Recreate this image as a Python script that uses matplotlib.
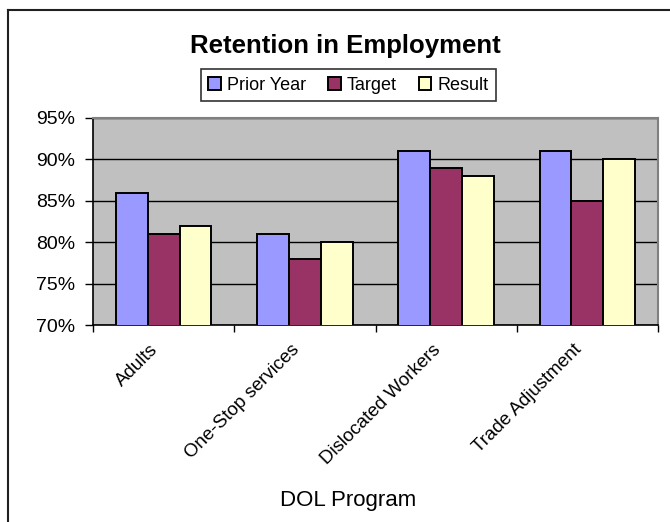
import matplotlib
matplotlib.use("Agg")
import matplotlib.pyplot as plt
import numpy as np
from matplotlib.lines import Line2D
from matplotlib.transforms import ScaledTranslation
from matplotlib.ticker import FuncFormatter

plt.rcParams['font.family'] = ['Liberation Sans', 'DejaVu Sans']

programs = ['Adults', 'One-Stop services', 'Dislocated Workers', 'Trade Adjustment']
prior_year = [86, 81, 91, 91]
target = [81, 78, 89, 85]
result = [82, 80, 88, 90]

series = [('Prior Year', prior_year, '#9999FF'),
          ('Target', target, '#993366'),
          ('Result', result, '#FFFFCC')]

fig = plt.figure(figsize=(6.7, 5.22), dpi=100)
ax = fig.add_axes([93 / 670, 1 - 325 / 522, (658 - 93) / 670, (325 - 118) / 522])
ax.set_facecolor('#C0C0C0')

x = np.arange(len(programs))
w = 0.225
for i, (name, vals, col) in enumerate(series):
    ax.bar(x + (i - 1) * w, vals, w, color=col, edgecolor='black',
           linewidth=1.4, label=name, zorder=3)

ax.set_xlim(-0.5, len(programs) - 0.5)
ax.set_ylim(70, 95)
ax.set_yticks(np.arange(70, 96, 5))
ax.yaxis.set_major_formatter(FuncFormatter(lambda v, p: f'{v:.0f}%'))
ax.yaxis.grid(True, color='black', linewidth=1, zorder=1)
ax.set_axisbelow(True)

# category boundaries as major ticks, names on minor ticks
ax.set_xticks(np.arange(-0.5, len(programs), 1))
ax.set_xticklabels([])
ax.set_xticks(x, minor=True)
ax.set_xticklabels(programs, minor=True, rotation=45, ha='right', va='center',
                   rotation_mode='anchor', fontsize=13.5)
ax.tick_params(axis='x', which='minor', length=0, pad=16)
ax.tick_params(axis='x', which='major', length=5, width=1, direction='out')
ax.tick_params(axis='y', length=6, width=1, pad=7, labelsize=14)
shift = ScaledTranslation(-8 / 100, 0, fig.dpi_scale_trans)
for lab in ax.get_xticklabels(minor=True):
    lab.set_transform(lab.get_transform() + shift)

for s in ['left', 'bottom']:
    ax.spines[s].set_color('black')
    ax.spines[s].set_linewidth(1.2)
for s in ['top', 'right']:
    ax.spines[s].set_color('#808080')
    ax.spines[s].set_linewidth(1.5)

fig.text(345 / 670, 1 - 53 / 522, 'Retention in Employment', ha='center',
         va='baseline', fontsize=18.5, fontweight='bold')

leg = fig.legend(loc='center', bbox_to_anchor=(348.5 / 670, 1 - 85 / 522), ncol=3,
                 fontsize=13, frameon=True, fancybox=False, shadow=False,
                 handlelength=0.7, handleheight=0.7, handletextpad=0.35,
                 columnspacing=1.2, borderpad=0.4, edgecolor='black')
leg.get_frame().set_linewidth(1.2)

fig.text(348 / 670, 1 - 506 / 522, 'DOL Program', ha='center', va='baseline',
         fontsize=16)

# outer chart frame
fig.add_artist(Line2D([8 / 670, 8 / 670], [0, 1 - 10 / 522], color='#202020',
                      linewidth=1.5, transform=fig.transFigure))
fig.add_artist(Line2D([8 / 670, 1], [1 - 10 / 522, 1 - 10 / 522], color='#202020',
                      linewidth=1.5, transform=fig.transFigure))

fig.savefig('out.png', dpi=100, facecolor='white')
